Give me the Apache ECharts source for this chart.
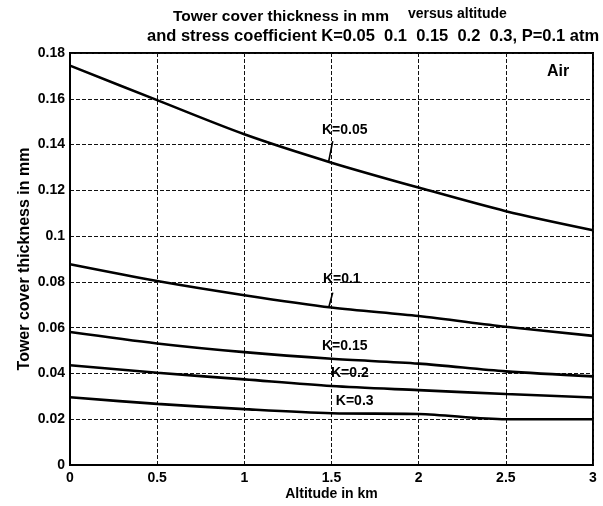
<!DOCTYPE html>
<html>
<head>
<meta charset="utf-8">
<script src="https://cdn.jsdelivr.net/npm/echarts@6/dist/echarts.min.js"></script>
<style>
html,body{margin:0;padding:0;background:#fff;}
#chart{width:603px;height:506px;}
</style>
</head>
<body>
<div id="chart"></div>
<script>
// Altitude in km
var altitude = [0, 0.5, 1, 1.5, 2, 2.5, 3];
// Tower cover thickness in mm for each stress coefficient K
var k005 = [0.1745, 0.1594, 0.1445, 0.1321, 0.1212, 0.1109, 0.1026];
var k010 = [0.0877, 0.0804, 0.0742, 0.0688, 0.0651, 0.0604, 0.0564];
var k015 = [0.0581, 0.0531, 0.0493, 0.0464, 0.0443, 0.0409, 0.0387];
var k020 = [0.0436, 0.0403, 0.0374, 0.0345, 0.0327, 0.0310, 0.0295];
var k030 = [0.0296, 0.0267, 0.0244, 0.0226, 0.0223, 0.0200, 0.0200];
var seriesNames = ['K=0.05', 'K=0.1', 'K=0.15', 'K=0.2', 'K=0.3'];
// curve labels placed in data coordinates [x, y, text]
var curveLabels = [
  [1.576, 0.1465, 'K=0.05'],
  [1.559, 0.0812, 'K=0.1'],
  [1.576, 0.0519, 'K=0.15'],
  [1.605, 0.0401, 'K=0.2'],
  [1.633, 0.0280, 'K=0.3'],
  [2.80, 0.1720, 'Air']
];
// leader lines from label to curve [[x1,y1],[x2,y2]]
var leader005 = [[1.507, 0.1415], [1.484, 0.1327]];
var leader010 = [[1.507, 0.0753], [1.484, 0.0688]];

var FONT = '"Liberation Sans", Arial, sans-serif';
var chart = echarts.init(document.getElementById('chart'), null, {renderer: 'canvas'});

function curve(name, vals) {
  return {
    name: name, type: 'line', smooth: 0.3, symbol: 'none',
    data: altitude.map(function (x, i) { return [x, vals[i]]; }),
    lineStyle: {color: '#000', width: 2.6},
    z: 3
  };
}
function leader(pts) {
  return {
    type: 'line', symbol: 'none', data: pts,
    lineStyle: {color: '#000', width: 1.6}, z: 3, silent: true
  };
}

var option = {
  animation: false,
  backgroundColor: '#fff',
  grid: {left: 70, right: 10, top: 53, bottom: 41, show: true, borderColor: '#000', borderWidth: 2},
  graphic: [
    {type: 'text', left: 173, top: 9, style: {
      text: 'Tower cover thickness in mm',
      font: 'bold 15.5px ' + FONT, fill: '#000'
    }},
    {type: 'text', left: 408, top: 7, style: {
      text: 'versus altitude',
      font: 'bold 14px ' + FONT, fill: '#000'
    }},
    {type: 'text', left: 147, top: 28, style: {
      text: 'and stress coefficient K=0.05  0.1  0.15  0.2  0.3, P=0.1 atm',
      font: 'bold 16.5px ' + FONT, fill: '#000'
    }}
  ],
  xAxis: {
    type: 'value', min: 0, max: 3, interval: 0.5,
    name: 'Altitude in km', nameLocation: 'middle', nameGap: 22,
    nameMoveOverlap: false,
    nameTextStyle: {fontFamily: FONT, fontWeight: 'bold', fontSize: 14, color: '#000'},
    axisLine: {show: true, lineStyle: {color: '#000', width: 2}},
    axisTick: {show: false},
    axisLabel: {color: '#000', fontFamily: FONT, fontWeight: 'bold', fontSize: 14, margin: 6},
    splitLine: {show: true, lineStyle: {color: '#111', width: 1, type: [4, 2]}}
  },
  yAxis: {
    type: 'value', min: 0, max: 0.18, interval: 0.02,
    name: 'Tower cover thickness in mm', nameLocation: 'middle', nameGap: 37,
    nameMoveOverlap: false,
    nameTextStyle: {fontFamily: FONT, fontWeight: 'bold', fontSize: 16, color: '#000'},
    axisLine: {show: true, lineStyle: {color: '#000', width: 2}},
    axisTick: {show: false},
    axisLabel: {color: '#000', fontFamily: FONT, fontWeight: 'bold', fontSize: 14, margin: 5},
    splitLine: {show: true, lineStyle: {color: '#111', width: 1, type: [4, 2]}}
  },
  series: [
    curve(seriesNames[0], k005),
    curve(seriesNames[1], k010),
    curve(seriesNames[2], k015),
    curve(seriesNames[3], k020),
    curve(seriesNames[4], k030),
    leader(leader005),
    leader(leader010),
    {
      type: 'scatter', symbolSize: 0, z: 5, silent: true,
      itemStyle: {opacity: 1, color: '#000'},
      data: curveLabels.map(function (d) {
        return d[2] === 'Air' ? {value: d, label: {fontSize: 16}} : {value: d};
      }),
      label: {
        show: true, position: 'inside', color: '#000', opacity: 1,
        fontFamily: FONT, fontWeight: 'bold', fontSize: 14,
        formatter: function (p) { return p.value[2]; }
      },
      emphasis: {disabled: true}
    }
  ]
};
chart.setOption(option);
</script>
</body>
</html>
